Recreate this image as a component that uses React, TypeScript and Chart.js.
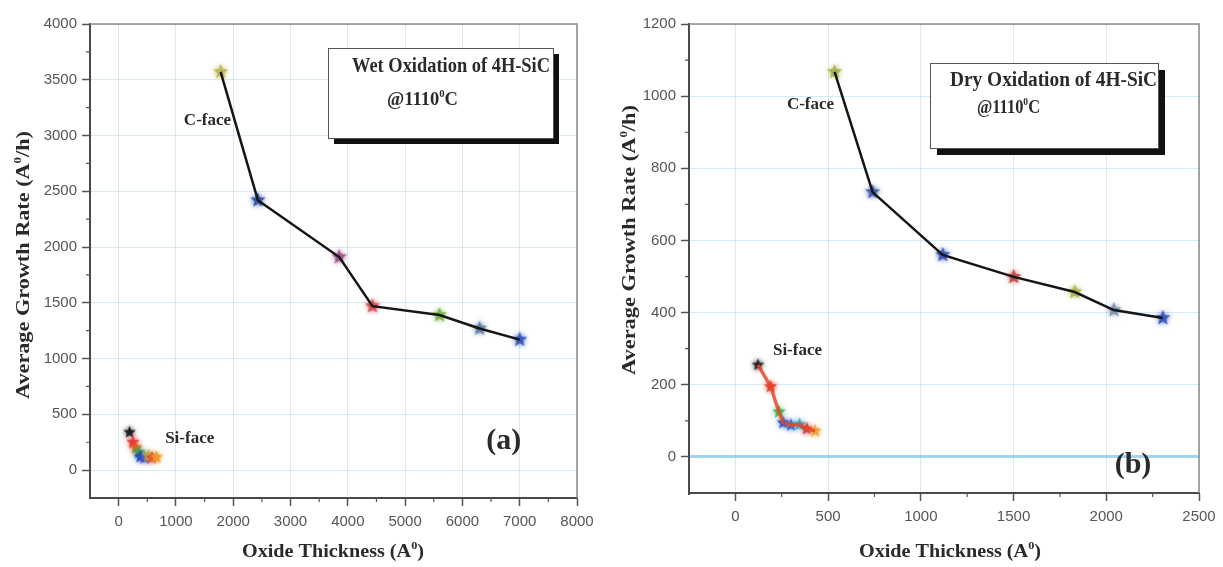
import React, { useEffect, useRef } from 'react';
import { Chart, registerables } from 'chart.js';

Chart.register(...registerables);

// ---------- Panel (a): wet oxidation ----------
const wetCFaceX = [1780, 2430, 3850, 4430, 5600, 6300, 7000];
const wetCFaceY = [3570, 2420, 1910, 1470, 1390, 1270, 1170];
const wetCFaceColors = ['#b8b444', '#2a4aa8', '#9a4a8a', '#d04848', '#72b044', '#5878a0', '#3050b8'];
const wetSiFaceX = [190, 250, 300, 350, 380, 450, 520, 580, 660];
const wetSiFaceY = [340, 250, 200, 160, 120, 110, 130, 110, 115];
const wetSiFaceColors = ['#111111', '#e03030', '#e85a20', '#40b040', '#2040c0', '#3050d0', '#c0c030', '#e04040', '#f09a20'];
const wetXTicks = [0, 1000, 2000, 3000, 4000, 5000, 6000, 7000, 8000];
const wetYTicks = [0, 500, 1000, 1500, 2000, 2500, 3000, 3500, 4000];
const wetXMinor = [500, 1500, 2500, 3500, 4500, 5500, 6500, 7500];
const wetYMinor = [250, 750, 1250, 1750, 2250, 2750, 3250, 3750];

// ---------- Panel (b): dry oxidation ----------
const dryCFaceX = [535, 740, 1118, 1501, 1830, 2041, 2305];
const dryCFaceY = [1067, 734, 560, 499, 457, 407, 385];
const dryCFaceColors = ['#a8b044', '#3858b0', '#3050b0', '#c04040', '#b0b044', '#7890a8', '#3050b8'];
const drySiFaceX = [122, 190, 235, 258, 300, 345, 385, 430];
const drySiFaceY = [255, 195, 125, 95, 88, 90, 78, 72];
const drySiFaceColors = ['#111111', '#e03020', '#40b050', '#2850c0', '#3060d0', '#30a0c0', '#d03040', '#f0a030'];
const dryXTicks = [0, 500, 1000, 1500, 2000, 2500];
const dryYTicks = [0, 200, 400, 600, 800, 1000, 1200];
const dryXMinor = [250, 750, 1250, 1750, 2250];
const dryYMinor = [100, 300, 500, 700, 900, 1100];

const SERIF = '"Liberation Serif", "DejaVu Serif", serif';
const SANS = '"Liberation Sans", Arial, sans-serif';

type Part = { t: string; sup?: boolean };

function drawParts(
  ctx: CanvasRenderingContext2D,
  parts: Part[],
  x: number,
  y: number,
  size: number,
  opts: { align?: 'left' | 'center'; width?: number; rotate?: boolean; color?: string }
) {
  ctx.save();
  const nf = `bold ${size}px ${SERIF}`;
  const sf = `bold ${Math.round(size * 0.6)}px ${SERIF}`;
  let natural = 0;
  const widths = parts.map((p) => {
    ctx.font = p.sup ? sf : nf;
    const w = ctx.measureText(p.t).width;
    natural += w;
    return w;
  });
  const sx = opts.width ? opts.width / natural : 1;
  ctx.translate(x, y);
  if (opts.rotate) ctx.rotate(-Math.PI / 2);
  ctx.scale(sx, 1);
  let cx = opts.align === 'center' ? -natural / 2 : 0;
  ctx.fillStyle = opts.color || '#222';
  ctx.textBaseline = 'alphabetic';
  ctx.textAlign = 'left';
  parts.forEach((p, i) => {
    ctx.font = p.sup ? sf : nf;
    ctx.fillText(p.t, cx, p.sup ? -size * 0.42 : 0);
    cx += widths[i];
  });
  ctx.restore();
}

function makeStar(color: string, size: number): HTMLCanvasElement {
  const pad = 6;
  const c = document.createElement('canvas');
  c.width = size + pad * 2;
  c.height = size + pad * 2;
  const ctx = c.getContext('2d')!;
  const cx = c.width / 2;
  const cy = c.height / 2;
  const R = size / 2;
  const r = R * 0.45;
  ctx.shadowColor = color;
  ctx.shadowBlur = 5;
  ctx.globalAlpha = 0.85;
  ctx.beginPath();
  for (let i = 0; i < 10; i++) {
    const ang = -Math.PI / 2 + (i * Math.PI) / 5;
    const rad = i % 2 === 0 ? R : r;
    ctx.lineTo(cx + rad * Math.cos(ang), cy + rad * Math.sin(ang));
  }
  ctx.closePath();
  ctx.fillStyle = color;
  ctx.fill();
  return c;
}

type Label = { x: number; y: number; parts: Part[]; size: number };
type PanelCfg = {
  w: number;
  h: number;
  plotLeft: number;
  plotTop: number;
  plotRight: number;
  plotBottom: number;
  xMin: number;
  xMax: number;
  yMin: number;
  yMax: number;
  xTicks: number[];
  yTicks: number[];
  xMinor: number[];
  yMinor: number[];
  cX: number[];
  cY: number[];
  cColors: string[];
  siX: number[];
  siY: number[];
  siColors: string[];
  siLine: boolean;
  dataLabels: Label[];
  box: { x: number; y: number; w: number; h: number; sh: number; l1: string; l1x: number; l1y: number; l1w: number; l2x: number; l2y: number; l2w: number };
  yTitle: { x: number; y: number; w: number };
  xTitle: { x: number; y: number; w: number };
  zeroLine: boolean;
};

function makeOverlay(cfg: PanelCfg) {
  return {
    id: 'overlay',
    afterDraw(chart: any) {
      const ctx: CanvasRenderingContext2D = chart.ctx;
      const xs = chart.scales.x;
      const ys = chart.scales.y;
      const a = chart.chartArea;
      ctx.save();
      // frame top/right
      ctx.strokeStyle = '#8a8a8a';
      ctx.lineWidth = 1.5;
      ctx.beginPath();
      ctx.moveTo(a.left, a.top);
      ctx.lineTo(a.right, a.top);
      ctx.lineTo(a.right, a.bottom);
      ctx.stroke();
      // minor ticks
      ctx.strokeStyle = '#555';
      ctx.lineWidth = 1.2;
      ctx.beginPath();
      cfg.xMinor.forEach((v) => {
        const px = xs.getPixelForValue(v);
        ctx.moveTo(px, a.bottom);
        ctx.lineTo(px, a.bottom + 4);
      });
      cfg.yMinor.forEach((v) => {
        const py = ys.getPixelForValue(v);
        ctx.moveTo(a.left, py);
        ctx.lineTo(a.left - 4, py);
      });
      ctx.stroke();
      // data-anchored labels
      cfg.dataLabels.forEach((l) => {
        drawParts(ctx, l.parts, xs.getPixelForValue(l.x), ys.getPixelForValue(l.y), l.size, { align: 'center', color: '#2a2a2a' });
      });
      // box with shadow
      const b = cfg.box;
      ctx.fillStyle = '#111';
      ctx.fillRect(b.x + b.sh, b.y + b.sh, b.w, b.h);
      ctx.fillStyle = '#fff';
      ctx.fillRect(b.x, b.y, b.w, b.h);
      ctx.strokeStyle = '#555';
      ctx.lineWidth = 1;
      ctx.strokeRect(b.x + 0.5, b.y + 0.5, b.w, b.h);
      drawParts(ctx, [{ t: b.l1 }], b.l1x, b.l1y, 20, { width: b.l1w, color: '#2a2a2a' });
      drawParts(ctx, [{ t: '@1110' }, { t: '0', sup: true }, { t: 'C' }], b.l2x, b.l2y, 19, { width: b.l2w, color: '#2a2a2a' });
      // axis titles
      drawParts(ctx, [{ t: 'Average Growth Rate (A' }, { t: '0', sup: true }, { t: '/h)' }], cfg.yTitle.x, cfg.yTitle.y, 19, {
        align: 'center',
        rotate: true,
        width: cfg.yTitle.w,
        color: '#2a2a2a',
      });
      drawParts(ctx, [{ t: 'Oxide Thickness (A' }, { t: '0', sup: true }, { t: ')' }], cfg.xTitle.x, cfg.xTitle.y, 18, {
        align: 'center',
        width: cfg.xTitle.w,
        color: '#2a2a2a',
      });
      ctx.restore();
    },
  };
}

function Panel({ cfg }: { cfg: PanelCfg }) {
  const ref = useRef<HTMLCanvasElement>(null);
  useEffect(() => {
    if (!ref.current) return;
    const gridCol = (zero: boolean) => (c: any) =>
      zero && c.tick && c.tick.value === 0 ? 'rgba(120,195,235,0.7)' : 'rgba(120,190,230,0.3)';
    const gridW = (zero: boolean) => (c: any) => (zero && c.tick && c.tick.value === 0 ? 3 : 1);
    const tickFont = { family: SANS, size: 15 };
    const datasets: any[] = [
      {
        data: cfg.cX.map((x, i) => ({ x, y: cfg.cY[i] })),
        showLine: true,
        borderColor: '#151515',
        borderWidth: 2.5,
        pointRadius: 0,
        order: 0,
      },
      {
        data: cfg.cX.map((x, i) => ({ x, y: cfg.cY[i] })),
        showLine: false,
        pointStyle: cfg.cColors.map((c) => makeStar(c, 16)),
        pointRadius: 8,
        order: 1,
      },
      {
        data: cfg.siX.map((x, i) => ({ x, y: cfg.siY[i] })),
        showLine: false,
        pointStyle: cfg.siColors.map((c, i) => makeStar(c, i === 0 ? 13 : 14)),
        pointRadius: 8,
        order: 2,
      },
    ];
    if (cfg.siLine) {
      datasets.push({
        data: cfg.siX.map((x, i) => ({ x, y: cfg.siY[i] })),
        showLine: true,
        borderColor: 'rgba(232,70,40,0.85)',
        borderWidth: 3.5,
        pointRadius: 0,
        order: 1,
      });
    }
    const chart = new Chart(ref.current, {
      type: 'scatter',
      data: { datasets },
      options: {
        animation: false,
        responsive: false,
        devicePixelRatio: 1,
        layout: {
          padding: { top: cfg.plotTop, right: cfg.w - cfg.plotRight, left: 0, bottom: 0 },
        },
        plugins: { legend: { display: false }, tooltip: { enabled: false }, title: { display: false } },
        scales: {
          x: {
            type: 'linear',
            min: cfg.xMin,
            max: cfg.xMax,
            afterBuildTicks: (s: any) => {
              s.ticks = cfg.xTicks.map((v) => ({ value: v }));
            },
            afterFit: (s: any) => {
              s.height = cfg.h - cfg.plotBottom;
            },
            grid: { color: gridCol(false), lineWidth: 1, tickColor: '#555', tickLength: 8, tickWidth: 1.5 },
            border: { color: '#4a4a4a', width: 2 },
            ticks: { font: tickFont, color: '#555', padding: 7, maxRotation: 0, autoSkip: false, callback: (v: any) => String(v) },
          },
          y: {
            type: 'linear',
            min: cfg.yMin,
            max: cfg.yMax,
            afterBuildTicks: (s: any) => {
              s.ticks = cfg.yTicks.map((v) => ({ value: v }));
            },
            afterFit: (s: any) => {
              s.width = cfg.plotLeft;
            },
            grid: { color: gridCol(cfg.zeroLine), lineWidth: gridW(cfg.zeroLine), tickColor: '#555', tickLength: 8, tickWidth: 1.5 },
            border: { color: '#4a4a4a', width: 2 },
            ticks: { font: tickFont, color: '#555', padding: 5, autoSkip: false, callback: (v: any) => String(v) },
          },
        },
      },
      plugins: [makeOverlay(cfg)],
    } as any);
    return () => chart.destroy();
  }, [cfg]);
  return <canvas ref={ref} width={cfg.w} height={cfg.h} style={{ width: cfg.w, height: cfg.h, display: 'block' }} />;
}

const leftCfg: PanelCfg = {
  w: 610,
  h: 567,
  plotLeft: 90,
  plotTop: 24,
  plotRight: 577,
  plotBottom: 498,
  xMin: -500,
  xMax: 8000,
  yMin: -250,
  yMax: 4000,
  xTicks: wetXTicks,
  yTicks: wetYTicks,
  xMinor: wetXMinor,
  yMinor: wetYMinor,
  cX: wetCFaceX,
  cY: wetCFaceY,
  cColors: wetCFaceColors,
  siX: wetSiFaceX,
  siY: wetSiFaceY,
  siColors: wetSiFaceColors,
  siLine: false,
  dataLabels: [
    { x: 1550, y: 3090, parts: [{ t: 'C-face' }], size: 17 },
    { x: 1240, y: 240, parts: [{ t: 'Si-face' }], size: 17 },
    { x: 6720, y: 190, parts: [{ t: '(a)' }], size: 30 },
  ],
  box: { x: 328, y: 48, w: 225, h: 90, sh: 6, l1: 'Wet Oxidation of 4H-SiC', l1x: 352, l1y: 72, l1w: 198, l2x: 387, l2y: 105, l2w: 71 },
  yTitle: { x: 29, y: 265, w: 268 },
  xTitle: { x: 333, y: 557, w: 182 },
  zeroLine: false,
};

const rightCfg: PanelCfg = {
  w: 613,
  h: 567,
  plotLeft: 79,
  plotTop: 24,
  plotRight: 589,
  plotBottom: 493,
  xMin: -250,
  xMax: 2500,
  yMin: -100,
  yMax: 1200,
  xTicks: dryXTicks,
  yTicks: dryYTicks,
  xMinor: dryXMinor,
  yMinor: dryYMinor,
  cX: dryCFaceX,
  cY: dryCFaceY,
  cColors: dryCFaceColors,
  siX: drySiFaceX,
  siY: drySiFaceY,
  siColors: drySiFaceColors,
  siLine: true,
  dataLabels: [
    { x: 405, y: 965, parts: [{ t: 'C-face' }], size: 17 },
    { x: 335, y: 282, parts: [{ t: 'Si-face' }], size: 17 },
    { x: 2144, y: -45, parts: [{ t: '(b)' }], size: 30 },
  ],
  box: { x: 320, y: 63, w: 228, h: 85, sh: 7, l1: 'Dry Oxidation of 4H-SiC', l1x: 340, l1y: 86, l1w: 207, l2x: 367, l2y: 113, l2w: 63 },
  yTitle: { x: 25, y: 240, w: 270 },
  xTitle: { x: 340, y: 557, w: 182 },
  zeroLine: true,
};

export default function App() {
  return (
    <div style={{ position: 'fixed', left: 0, top: 0, width: 1223, height: 567, background: '#fff', display: 'flex' }}>
      <Panel cfg={leftCfg} />
      <Panel cfg={rightCfg} />
    </div>
  );
}
